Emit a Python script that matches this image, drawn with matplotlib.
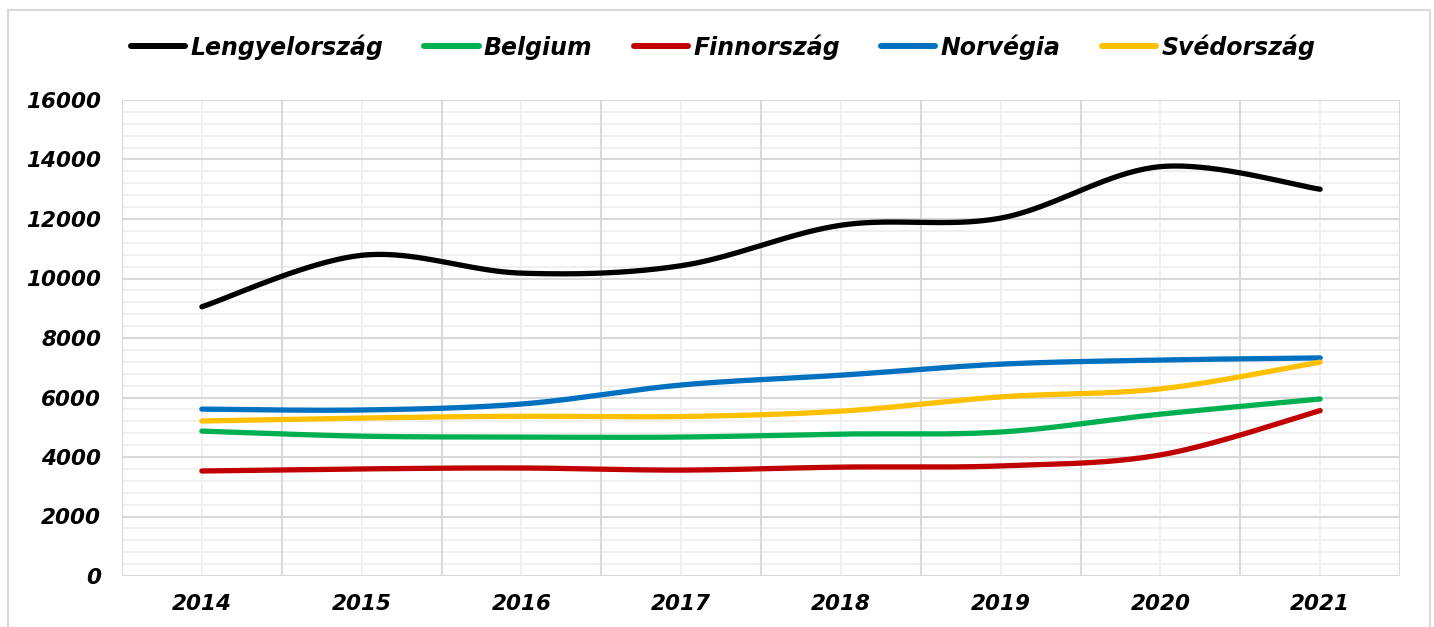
import numpy as np
import matplotlib
matplotlib.use("Agg")
import matplotlib.pyplot as plt
from matplotlib.patches import Rectangle
from matplotlib.lines import Line2D

years = ["2014", "2015", "2016", "2017", "2018", "2019", "2020", "2021"]
lengyel = [9050, 10780, 10180, 10430, 11790, 12030, 13760, 13000]
belgium = [4870, 4700, 4670, 4670, 4770, 4840, 5440, 5950]
finn = [3530, 3600, 3630, 3560, 3660, 3700, 4070, 5560]
norveg = [5610, 5580, 5780, 6420, 6750, 7120, 7260, 7330]
sved = [5210, 5310, 5370, 5360, 5540, 6020, 6290, 7190]
names = ["Lengyelország", "Belgium", "Finnország", "Norvégia", "Svédország"]
colors = ["#000000", "#00B050", "#C00000", "#0070C0", "#FFC000"]
series = [lengyel, belgium, finn, norveg, sved]


def smooth(x, y, n=40):
    x = np.asarray(x, float)
    y = np.asarray(y, float)
    P = np.column_stack([x, y])
    m = len(P)
    out = []
    for i in range(m - 1):
        p0 = P[i - 1] if i > 0 else P[i]
        p1 = P[i]
        p2 = P[i + 1]
        p3 = P[i + 2] if i + 2 < m else P[i + 1]
        c1 = p1 + (p2 - p0) / 6.0
        c2 = p2 - (p3 - p1) / 6.0
        t = np.linspace(0, 1, n)[:, None]
        seg = ((1 - t) ** 3) * p1 + 3 * ((1 - t) ** 2) * t * c1 + 3 * (1 - t) * t ** 2 * c2 + t ** 3 * p2
        out.append(seg if i == 0 else seg[1:])
    s = np.vstack(out)
    return s[:, 0], s[:, 1]


plt.rcParams['font.family'] = ['DejaVu Sans']
fig = plt.figure(figsize=(14.34, 6.27), dpi=100)
ax = fig.add_axes([122 / 1434, 1 - 576 / 627, (1400 - 122) / 1434, (576 - 100) / 627])

xs = np.arange(len(years))
for vals, c in zip(series, colors):
    sx, sy = smooth(xs, vals)
    ax.plot(sx, sy, color=c, lw=3.8, solid_capstyle='round', zorder=3)

ax.set_xlim(-0.5, len(years) - 0.5)
ax.set_ylim(0, 16000)
ax.set_yticks(np.arange(0, 16001, 2000))
ax.set_xticks(xs)
ax.set_xticklabels(years)

for v in np.arange(0, 16001, 400):
    major = (v % 2000 == 0)
    ax.axhline(v, color="#d9d9d9" if major else "#efefef", lw=1.5 if major else 1.3, zorder=1 if major else 0.5)
for v in np.arange(-0.5, len(years), 1):
    ax.axvline(v, color="#d9d9d9", lw=1.5, zorder=1)
for v in xs:
    ax.axvline(v, color="#efefef", lw=1.3, zorder=0.5)

for s in ax.spines.values():
    s.set_visible(False)
ax.tick_params(which='both', length=0)
ax.tick_params(axis='y', pad=15)
ax.tick_params(axis='x', pad=13)
for lab in ax.get_yticklabels() + ax.get_xticklabels():
    lab.set_fontsize(15.5)
    lab.set_fontweight('bold')
    lab.set_fontstyle('italic')

handles = [Line2D([0], [0], color=c, lw=4.3, solid_capstyle='round') for c in colors]
fig.legend(handles, names, loc='center', bbox_to_anchor=(0.5 + 6 / 1434, 1 - 47 / 627), ncol=5,
           frameon=False, handlelength=2.3, handletextpad=0.22, columnspacing=1.75,
           prop={'size': 17, 'weight': 'bold', 'style': 'italic'})

fig.patches.append(Rectangle((8 / 1434, -0.01), (1430 - 8) / 1434, 1 - 10 / 627 + 0.01,
                             transform=fig.transFigure, fill=False, edgecolor="#d9d9d9", lw=1.5))

fig.savefig("out.png", dpi=100)
